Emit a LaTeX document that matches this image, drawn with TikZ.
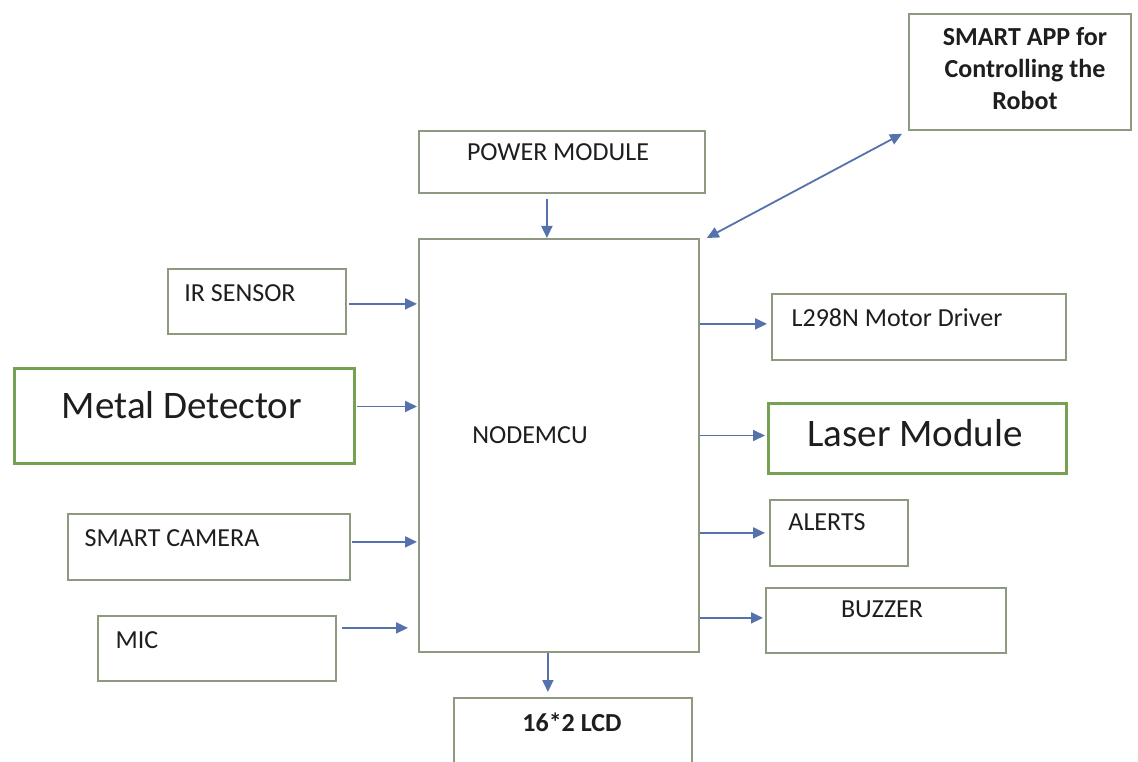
\documentclass[tikz,border=0pt]{standalone}
\usepackage{fontspec}
\setmainfont{Carlito}
\usetikzlibrary{arrows.meta}
\definecolor{boxline}{HTML}{8E9A80}
\definecolor{greenline}{HTML}{76A052}
\definecolor{arrowblue}{HTML}{5672AC}
\definecolor{txt}{HTML}{1E1E1E}
\tikzset{
  box/.style={draw=boxline, line width=1.8pt, fill=white, inner sep=0pt, anchor=north west},
  gbox/.style={draw=greenline, line width=3pt, fill=white, inner sep=0pt, anchor=north west},
  lbl/.style={text=txt, inner sep=0pt, font=\fontsize{26}{32}\selectfont},
  biglbl/.style={text=txt, inner sep=0pt, font=\fontsize{39}{46}\selectfont},
  boldlbl/.style={text=txt, inner sep=0pt, align=center, font=\fontsize{26}{32}\selectfont\bfseries},
  arr/.style={draw=arrowblue, line width=1.8pt, -{Triangle[length=12pt,width=11pt]}},
  biarr/.style={draw=arrowblue, line width=1.8pt, {Triangle[length=12pt,width=11pt]}-{Triangle[length=12pt,width=11pt]}}
}
\newcommand{\mybox}[6]{\node[#1, minimum width=#4pt-#2pt, minimum height=#5pt-#3pt] (#6) at (#2,#3) {};}
\begin{document}
\begin{tikzpicture}[x=1pt,y=-1pt]
\useasboundingbox (0,0) rectangle (1138,762);
\clip (0,0) rectangle (1138,762);
\fill[white] (0,0) rectangle (1138,762);
% boxes
\mybox{box}{908}{13}{1130}{129}{app}
\mybox{box}{418}{130}{704}{192}{pw}
\mybox{box}{418}{238}{698}{651}{mcu}
\mybox{box}{167}{268}{345}{333}{ir}
\mybox{gbox}{13}{367}{353}{462}{md}
\mybox{box}{67}{513}{349}{579}{cam}
\mybox{box}{97}{615}{335}{680}{mic}
\mybox{box}{771}{293}{1065}{359}{lm}
\mybox{gbox}{767}{402}{1065}{472}{laser}
\mybox{box}{769}{499}{907}{565}{alerts}
\mybox{box}{765}{587}{1005}{652}{buzz}
\mybox{box}{453}{697}{691}{780}{lcd}
% labels
\node[boldlbl] (appt) at (1025,69) {SMART APP for\\Controlling the\\Robot};
\node[lbl] (pwt) at (558,152) {POWER MODULE};
\node[lbl] (mcut) at (530,435) {NODEMCU};
\node[lbl] (irt) at (240,293) {IR SENSOR};
\node[biglbl] (mdt) at (182,405) {Metal Detector};
\node[lbl] (camt) at (172,538) {SMART CAMERA};
\node[lbl] (mict) at (137,640) {MIC};
\node[lbl] (lmt) at (897,318) {L298N Motor Driver};
\node[biglbl] (lasert) at (915,433) {Laser Module};
\node[lbl] (alertst) at (827,522) {ALERTS};
\node[lbl] (buzzt) at (882,609) {BUZZER};
\node[boldlbl] (lcdt) at (572,722) {16*2 LCD};
% connectors
\coordinate (pwa) at ([xshift=-15pt,yshift=-5pt]pw.south);
\draw[arr] (pwa) -- (pwa |- mcu.north);
\draw[biarr] ([xshift=-6pt,yshift=-3pt]app.south west) -- ([xshift=7pt]mcu.north east);
\coordinate (ira) at ([xshift=2pt,yshift=-2.5pt]ir.east);
\draw[arr] (ira) -- ([xshift=-1pt]ira -| mcu.west);
\coordinate (mda) at ([xshift=1pt,yshift=9.5pt]md.east);
\draw[arr] (mda) -- ([xshift=-1pt]mda -| mcu.west);
\coordinate (cama) at ([xshift=1pt,yshift=5pt]cam.east);
\draw[arr] (cama) -- ([xshift=-1pt]cama -| mcu.west);
\coordinate (mica) at ([xshift=5pt,yshift=20.5pt]mic.east);
\draw[arr] (mica) -- ([xshift=-10pt]mica -| mcu.west);
\coordinate (lma) at ([yshift=3pt]lm.west -| mcu.east);
\draw[arr] (lma) -- ([xshift=-4pt]lma -| lm.west);
\coordinate (lasera) at ([yshift=3pt]laser.west -| mcu.east);
\draw[arr] (lasera) -- ([xshift=-2pt]lasera -| laser.west);
\coordinate (alertsa) at ([yshift=0pt]alerts.west -| mcu.east);
\draw[arr] (alertsa) -- ([xshift=-4pt]alertsa -| alerts.west);
\coordinate (buzza) at ([yshift=2.5pt]buzz.west -| mcu.east);
\draw[arr] (buzza) -- ([xshift=-2pt]buzza -| buzz.west);
\coordinate (lcda) at ([xshift=-11pt]mcu.south);
\draw[arr] (lcda) -- ([yshift=5pt]lcda |- lcd.north);
\end{tikzpicture}
\end{document}
